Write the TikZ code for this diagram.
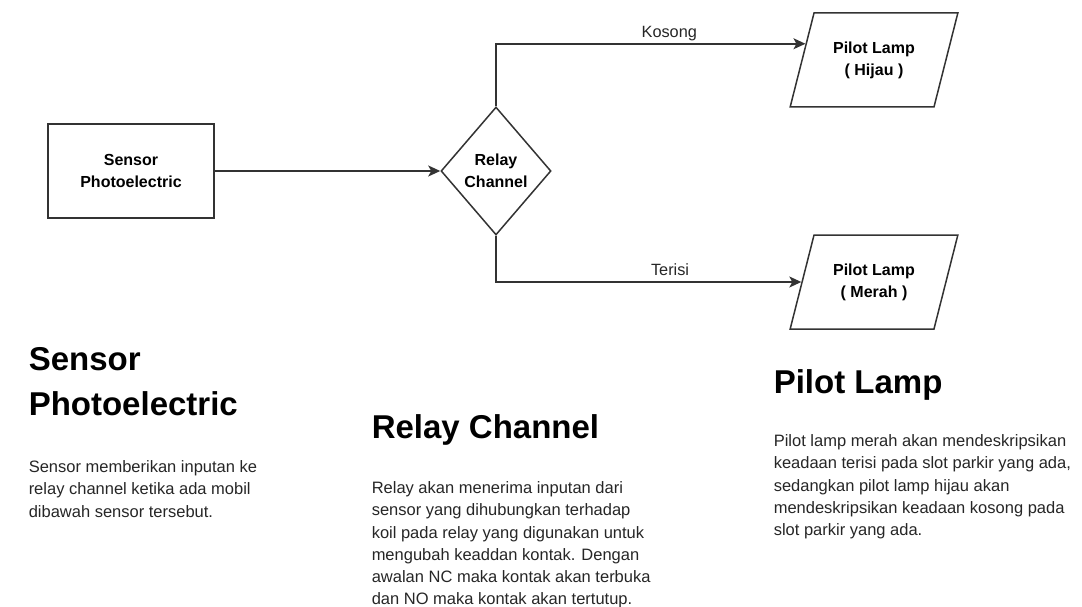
\documentclass[tikz,border=0pt]{standalone}
\usepackage{fontspec}
\setmainfont{Liberation Sans}
\usetikzlibrary{shapes.geometric,arrows.meta,calc}
\definecolor{linegray}{HTML}{333333}
\tikzset{
  box/.style={draw=linegray,fill=white,minimum width=166pt,minimum height=94pt,align=center,font=\fontsize{16}{22}\selectfont\bfseries},
  decision/.style={diamond,draw=linegray,fill=white,inner sep=0pt,minimum width=110pt,minimum height=128pt,align=center,font=\fontsize{16}{22}\selectfont\bfseries},
  lamp/.style={trapezium,trapezium left angle=68,trapezium right angle=112,trapezium stretches=true,draw=linegray,fill=white,minimum width=168pt,minimum height=94pt,align=center,font=\fontsize{16}{22}\selectfont\bfseries},
  label/.style={above,inner sep=2pt,text height=11.5pt,text depth=3.5pt,font=\fontsize{16.3}{20}\selectfont,text=black!85},
  head/.style={anchor=north west,inner sep=0pt,align=left,font=\fontsize{33}{45}\selectfont\bfseries},
  body/.style={anchor=north west,inner sep=0pt,align=left,font=\fontsize{16.5}{22.2}\selectfont,text=black!85}
}
\begin{document}
\begin{tikzpicture}[x=1pt,y=-1pt,line width=1.5pt,>={Stealth[length=12pt,width=11pt,inset=3pt]}]
\useasboundingbox (0,0) rectangle (1082,607);
\node[box] (sensor) at (131,171) {Sensor\\Photoelectric};
\node[decision] (relay) at (496,171) {Relay\\Channel};
\node[lamp] (hijau) at (874,60) {Pilot Lamp\\( Hijau )};
\node[lamp] (merah) at (874,282) {Pilot Lamp\\( Merah )};
\coordinate (hijauin) at ($(hijau.bottom left corner)!0.67!(hijau.top left corner)$);
\coordinate (merahin) at ($(merah.bottom left corner)!0.5!(merah.top left corner)$);
\draw[->,linegray] (sensor) -- (relay);
\draw[->,linegray] (relay.north) |- (hijauin) node[label,pos=0.78] {Kosong};
\draw[->,linegray] (relay.south) |- (merahin) node[label,pos=0.785] {Terisi};

\node[head] (sensorhead) at (28,347) {Sensor\\Photoelectric};
\node[body] (sensortext) at (28,460) {Sensor memberikan inputan ke\\relay channel ketika ada mobil\\dibawah sensor tersebut.};
\node[head] (relayhead) at (371,414) {Relay Channel};
\node[body] (relaytext) at (371,481) {Relay akan menerima inputan dari\\sensor yang dihubungkan terhadap\\koil pada relay yang digunakan untuk\\mengubah keaddan kontak. Dengan\\awalan NC maka kontak akan terbuka\\dan NO maka kontak akan tertutup.};
\node[head] (lamphead) at (773,369) {Pilot Lamp};
\node[body] (lamptext) at (773,434) {Pilot lamp merah akan mendeskripsikan\\keadaan terisi pada slot parkir yang ada,\\sedangkan pilot lamp hijau akan\\mendeskripsikan keadaan kosong pada\\slot parkir yang ada.};
\end{tikzpicture}
\end{document}
